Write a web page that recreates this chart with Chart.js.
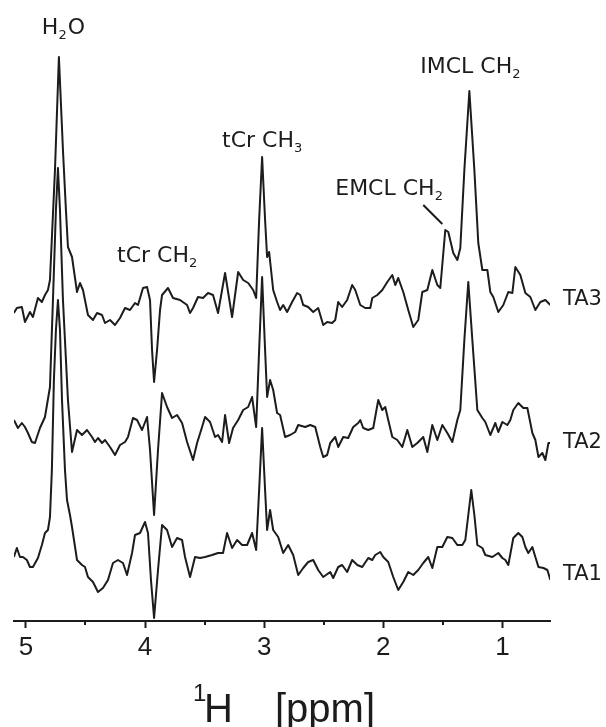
<!DOCTYPE html>
<html>
<head>
<meta charset="utf-8">
<script src="https://cdn.jsdelivr.net/npm/chart.js@4.4.1/dist/chart.umd.min.js"></script>
<style>
  html, body { margin: 0; padding: 0; background: #fff; }
  canvas { display: block; }
</style>
</head>
<body>
<canvas id="spectraChart" width="606" height="727"></canvas>
<script>
// chemical shift axis, ppm
var majorTicks = [5, 4, 3, 2, 1];
var minorTicks = [4.5, 3.5, 2.5, 1.5];

var traceNames = ['TA3', 'TA2', 'TA1'];
// vertical offset of each spectrum in the stack
var traceOffsets = [316, 186, 61];

// TA3
var ta3Ppm = [5.101, 5.076, 5.034, 5.008, 4.966, 4.941, 4.899, 4.866, 4.840, 4.815, 4.798, 4.756, 4.723, 4.689, 4.664, 4.647, 4.613, 4.571, 4.546, 4.521,
  4.479, 4.437, 4.403, 4.361, 4.336, 4.294, 4.252, 4.210, 4.168, 4.126, 4.084, 4.059, 4.017, 3.983, 3.958, 3.941, 3.924, 3.899, 3.874, 3.857,
  3.807, 3.765, 3.706, 3.647, 3.622, 3.597, 3.555, 3.513, 3.471, 3.429, 3.387, 3.328, 3.269, 3.218, 3.176, 3.134, 3.092, 3.067, 3.042, 3.017,
  2.992, 2.975, 2.958, 2.924, 2.891, 2.866, 2.840, 2.807, 2.765, 2.723, 2.697, 2.672, 2.630, 2.588, 2.546, 2.504, 2.471, 2.429, 2.403, 2.378,
  2.345, 2.303, 2.261, 2.235, 2.193, 2.151, 2.109, 2.092, 2.050, 2.008, 1.966, 1.924, 1.899, 1.874, 1.832, 1.790, 1.748, 1.706, 1.672, 1.630,
  1.588, 1.546, 1.521, 1.479, 1.454, 1.412, 1.378, 1.353, 1.319, 1.277, 1.235, 1.202, 1.168, 1.126, 1.101, 1.076, 1.034, 0.992, 0.950, 0.916,
  0.891, 0.849, 0.807, 0.765, 0.723, 0.681, 0.639, 0.597];
var ta3Values = [-8, -3, -2, -17, -7, -12, 7, 3, 10, 15, 25, 135, 248, 155, 95, 58, 48, 13, 22, 15,
  -10, -15, -8, -10, -18, -15, -20, -13, -3, -5, 2, 0, 17, 18, 5, -45, -77, -45, -5, 10,
  17, 7, 5, 0, -8, -3, 8, 7, 12, 10, -8, 32, -12, 33, 25, 22, 15, 7, 85, 148,
  85, 48, 53, 15, 3, -5, 0, -7, 3, 12, 10, 0, -2, -7, -3, -20, -17, -18, -15, 3,
  -2, 5, 20, 15, 0, -3, -3, 7, 10, 15, 23, 30, 20, 27, 13, -5, -22, -15, 13, 15,
  35, 20, 17, 75, 73, 52, 45, 57, 135, 214, 135, 62, 35, 35, 13, 8, -7, 0, 13, 12,
  38, 30, 12, 8, -5, 3, 5, 0];

// TA2
var ta2Ppm = [5.101, 5.067, 5.034, 5.008, 4.983, 4.950, 4.924, 4.882, 4.840, 4.798, 4.773, 4.748, 4.731, 4.714, 4.689, 4.647, 4.613, 4.571, 4.529, 4.487,
  4.445, 4.420, 4.395, 4.361, 4.336, 4.294, 4.252, 4.210, 4.168, 4.143, 4.101, 4.067, 4.025, 3.983, 3.958, 3.924, 3.891, 3.857, 3.815, 3.773,
  3.731, 3.689, 3.647, 3.597, 3.563, 3.521, 3.496, 3.454, 3.412, 3.387, 3.353, 3.328, 3.294, 3.261, 3.218, 3.176, 3.134, 3.101, 3.067, 3.042,
  3.017, 2.992, 2.975, 2.950, 2.924, 2.891, 2.866, 2.824, 2.782, 2.739, 2.714, 2.655, 2.613, 2.571, 2.529, 2.504, 2.471, 2.445, 2.403, 2.378,
  2.336, 2.294, 2.252, 2.210, 2.193, 2.168, 2.126, 2.084, 2.042, 2.008, 1.983, 1.958, 1.924, 1.882, 1.840, 1.798, 1.756, 1.714, 1.664, 1.630,
  1.588, 1.546, 1.504, 1.462, 1.420, 1.378, 1.353, 1.319, 1.286, 1.252, 1.210, 1.168, 1.143, 1.101, 1.059, 1.034, 1.000, 0.958, 0.933, 0.908,
  0.866, 0.824, 0.790, 0.748, 0.723, 0.697, 0.664, 0.639, 0.613, 0.597];
var ta2Values = [15, 7, 12, 8, 2, -7, -8, 7, 18, 48, 135, 225, 267, 225, 135, 35, -17, 5, 0, 5,
  -2, -7, -3, -8, -5, -12, -20, -10, -7, -2, 17, 15, 5, 18, -15, -80, -15, 42, 28, 17,
  20, 12, -7, -25, -8, 8, 18, 13, -2, 0, -7, 20, -8, 7, 15, 25, 28, 38, 8, 85,
  158, 85, 38, 55, 45, 22, 20, -2, 0, 3, 10, 8, 10, 8, -12, -22, -20, -8, -2, -12,
  -2, -3, 8, 12, 15, 7, 5, 7, 35, 25, 28, 15, -2, -5, -12, 5, -12, -8, -2, -17,
  10, -5, 10, 2, -7, 15, 25, 95, 153, 95, 25, 17, 13, 0, 12, 3, 13, 10, 15, 25,
  32, 27, 27, 2, -5, -22, -18, -25, -8, -8];

// TA1
var ta1Ppm = [5.101, 5.076, 5.050, 5.025, 4.992, 4.966, 4.941, 4.899, 4.866, 4.840, 4.815, 4.798, 4.782, 4.765, 4.748, 4.731, 4.714, 4.697, 4.672, 4.655,
  4.630, 4.613, 4.571, 4.529, 4.504, 4.479, 4.437, 4.395, 4.353, 4.311, 4.269, 4.227, 4.185, 4.151, 4.109, 4.084, 4.042, 4.000, 3.975, 3.950,
  3.924, 3.891, 3.857, 3.815, 3.773, 3.731, 3.689, 3.664, 3.622, 3.580, 3.538, 3.496, 3.437, 3.387, 3.345, 3.311, 3.269, 3.227, 3.185, 3.143,
  3.101, 3.067, 3.042, 3.017, 2.992, 2.975, 2.950, 2.924, 2.882, 2.840, 2.798, 2.756, 2.714, 2.672, 2.630, 2.588, 2.546, 2.504, 2.445, 2.420,
  2.378, 2.345, 2.303, 2.261, 2.218, 2.176, 2.126, 2.092, 2.067, 2.025, 2.000, 1.958, 1.916, 1.874, 1.832, 1.790, 1.748, 1.706, 1.664, 1.622,
  1.588, 1.546, 1.504, 1.462, 1.420, 1.378, 1.336, 1.311, 1.286, 1.261, 1.235, 1.210, 1.168, 1.143, 1.084, 1.034, 1.000, 0.975, 0.950, 0.908,
  0.866, 0.832, 0.807, 0.782, 0.748, 0.723, 0.697, 0.655, 0.622, 0.597];
var ta1Values = [3, 12, 3, 3, 0, -7, -7, 2, 15, 27, 30, 43, 90, 180, 230, 260, 230, 160, 90, 60,
  45, 33, 0, -5, -7, -17, -22, -32, -28, -20, -3, 0, -3, -15, 7, 25, 27, 38, 27, -20,
  -58, -10, 35, 30, 13, 22, 20, 3, -17, 3, 2, 3, 5, 7, 7, 27, 12, 20, 15, 15,
  27, 10, 70, 132, 70, 30, 50, 30, 23, 7, 15, 5, -15, -8, -2, 0, -10, -17, -12, -18,
  -7, -5, -12, 0, -5, -7, 2, 0, 5, 8, 3, -2, -17, -30, -22, -12, -15, -10, -3, 3,
  -8, 13, 13, 23, 22, 15, 15, 20, 45, 70, 45, 15, 12, 5, 3, 7, 2, 0, -5, 22,
  27, 23, 13, 7, 13, 3, -7, -8, -10, -20];

var tracePpm = [ta3Ppm, ta2Ppm, ta1Ppm];
var traceValues = [ta3Values, ta2Values, ta1Values];

// peak assignments: [text, subscript] pieces, anchored at (ppm, height)
var peakLabels = [
  { parts: [['H', 0], ['2', 1], ['O', 0]], ppm: 4.866, y: 587 },
  { parts: [['tCr CH', 0], ['2', 1]], ppm: 4.235, y: 359 },
  { parts: [['tCr CH', 0], ['3', 1]], ppm: 3.353, y: 474 },
  { parts: [['EMCL CH', 0], ['2', 1]], ppm: 2.403, y: 426 },
  { parts: [['IMCL CH', 0], ['2', 1]], ppm: 1.689, y: 548 }
];
var traceLabelY = [321, 178, 46];

var ink = '#1c1c1c';

var datasets = traceNames.map(function(name, k) {
  return {
    label: name,
    data: tracePpm[k].map(function(p, i) {
      return { x: p, y: traceValues[k][i] + traceOffsets[k] };
    }),
    borderColor: ink,
    borderWidth: 2,
    borderJoinStyle: 'round',
    pointRadius: 0,
    tension: 0,
    fill: false
  };
});

function drawParts(ctx, parts, x, y) {
  parts.forEach(function(p) {
    ctx.font = p[1] ? '13px "DejaVu Sans"' : '22px "DejaVu Sans"';
    ctx.fillText(p[0], x, p[1] ? y + 5 : y);
    x += ctx.measureText(p[0]).width + (p[1] ? 1 : 0);
  });
}

var spectrumDecor = {
  id: 'spectrumDecor',
  afterDraw: function(chart) {
    var ctx = chart.ctx;
    var xs = chart.scales.x;
    var ys = chart.scales.y;
    var area = chart.chartArea;
    ctx.save();
    ctx.fillStyle = ink;
    ctx.strokeStyle = ink;
    ctx.textAlign = 'left';
    ctx.textBaseline = 'alphabetic';

    // half-ppm minor ticks
    ctx.lineWidth = 2;
    minorTicks.forEach(function(v) {
      var px = Math.round(xs.getPixelForValue(v));
      ctx.beginPath();
      ctx.moveTo(px, area.bottom);
      ctx.lineTo(px, area.bottom + 4);
      ctx.stroke();
    });

    peakLabels.forEach(function(l) {
      drawParts(ctx, l.parts, xs.getPixelForValue(l.ppm), ys.getPixelForValue(l.y));
    });

    // pointer to the EMCL shoulder
    ctx.lineWidth = 2;
    ctx.beginPath();
    ctx.moveTo(xs.getPixelForValue(1.664), ys.getPixelForValue(416));
    ctx.lineTo(xs.getPixelForValue(1.504), ys.getPixelForValue(397));
    ctx.stroke();

    // sample names at the right end of each trace
    ctx.font = '21px "DejaVu Sans"';
    ctx.textBaseline = 'middle';
    traceNames.forEach(function(name, k) {
      ctx.fillText(name, area.right + 13, ys.getPixelForValue(traceLabelY[k]));
    });

    // axis title: 1H [ppm]
    ctx.textBaseline = 'alphabetic';
    var cx = (area.left + area.right) / 2;
    var base = chart.height - 5;
    ctx.font = '24px "Liberation Sans", Arial, sans-serif';
    ctx.fillText('1', cx - 89, base - 21);
    ctx.font = '40px "Liberation Sans", Arial, sans-serif';
    ctx.fillText('H', cx - 78, base);
    ctx.fillText('[ppm]', cx - 7, base);
    ctx.restore();
  }
};

var ctx = document.getElementById('spectraChart').getContext('2d');
var spectraChart = new Chart(ctx, {
  type: 'line',
  data: { datasets: datasets },
  options: {
    responsive: false,
    animation: false,
    layout: { padding: { left: 14, right: 56, top: 0, bottom: 0 } },
    plugins: {
      legend: { display: false },
      tooltip: { enabled: false }
    },
    scales: {
      x: {
        type: 'linear',
        reverse: true,
        min: 0.6,
        max: 5.1,
        afterBuildTicks: function(scale) {
          scale.ticks = majorTicks.map(function(v) { return { value: v }; });
        },
        afterFit: function(scale) { scale.height = 106; },
        border: { display: true, color: ink, width: 2 },
        grid: { drawOnChartArea: false, drawTicks: true, tickLength: 7, tickWidth: 2, tickColor: ink },
        ticks: {
          autoSkip: false,
          maxRotation: 0,
          padding: 4,
          color: ink,
          font: { family: '"Liberation Sans", Arial, sans-serif', size: 26 },
          callback: function(v) { return v; }
        }
      },
      y: {
        display: false,
        min: 0,
        max: 621
      }
    }
  },
  plugins: [spectrumDecor]
});
</script>
</body>
</html>
